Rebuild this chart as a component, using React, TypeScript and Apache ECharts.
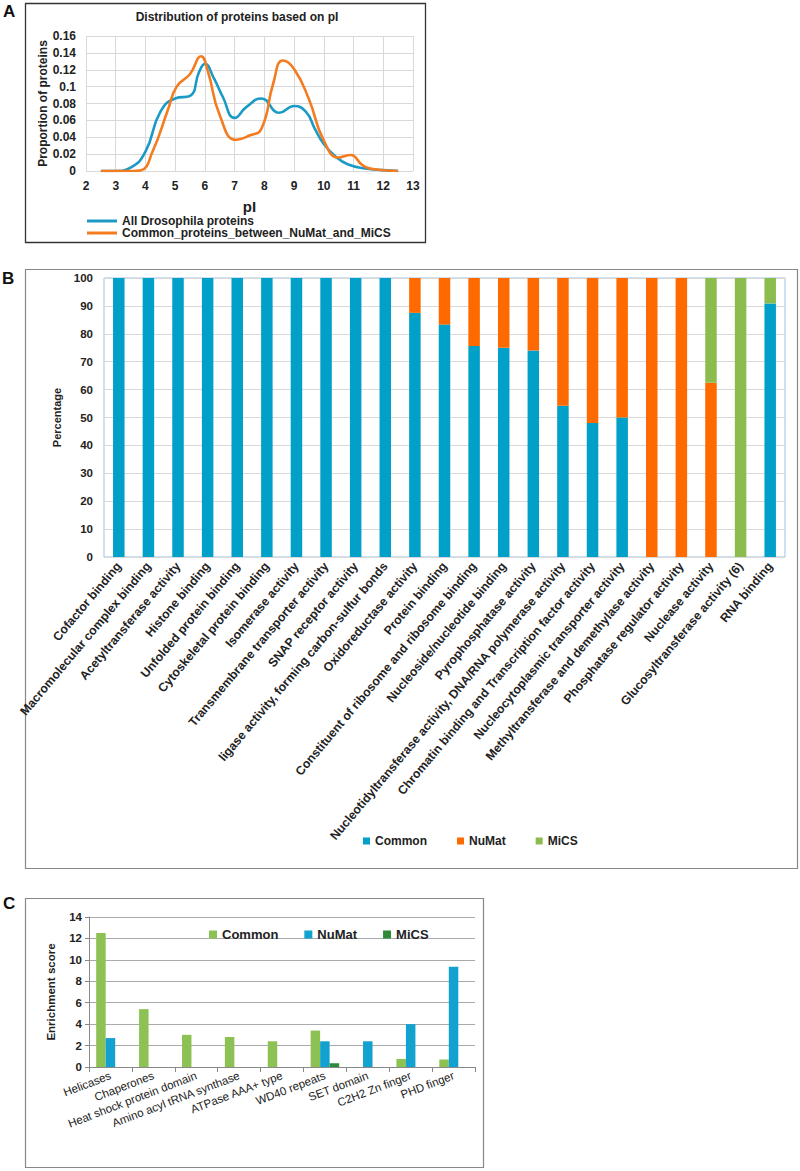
import React, { useEffect, useRef } from "react";
import * as echarts from "echarts";

// ---------- Panel A data ----------
const pIAll = [2.5, 3, 3.5, 4, 4.5, 5, 5.5, 5.8, 6, 6.3, 6.6, 7, 7.4, 7.9, 8.5, 9, 9.4, 9.7, 10, 10.4, 10.8, 11.4, 12, 12.5];
const propAll = [0, 0, 0.004, 0.023, 0.07, 0.086, 0.089, 0.117, 0.127, 0.11, 0.088, 0.063, 0.076, 0.086, 0.069, 0.077, 0.07, 0.05, 0.032, 0.017, 0.008, 0.003, 0.001, 0];
const pICommon = [2.5, 3, 3.5, 3.85, 4.25, 4.75, 5.05, 5.5, 5.87, 6.1, 6.5, 7.05, 7.5, 7.9, 8.3, 8.62, 9, 9.5, 10, 10.5, 10.9, 11.3, 11.7, 12.5];
const propCommon = [0, 0, 0, 0.001, 0.024, 0.072, 0.1, 0.115, 0.136, 0.118, 0.066, 0.037, 0.042, 0.05, 0.104, 0.131, 0.121, 0.085, 0.036, 0.016, 0.019, 0.007, 0.002, 0];
const seriesNamesA = ["All Drosophila proteins", "Common_proteins_between_NuMat_and_MiCS"];

// ---------- Panel B data ----------
const catsB = [
  "Cofactor binding",
  "Macromolecular complex binding",
  "Acetyltransferase activity",
  "Histone binding",
  "Unfolded protein binding",
  "Cytoskeletal protein binding",
  "Isomerase activity",
  "Transmembrane transporter activity",
  "SNAP receptor activity",
  "ligase activity, forming carbon-sulfur bonds",
  "Oxidoreductase activity",
  "Protein binding",
  "Constituent of ribosome and ribosome binding",
  "Nucleoside/nucleotide binding",
  "Pyrophosphatase activity",
  "Nucleotidyltransferase activity, DNA/RNA polymerase activity",
  "Chromatin binding and Transcription factor activity",
  "Nucleocytoplasmic transporter activity",
  "Methyltransferase and demethylase activity",
  "Phosphatase regulator activity",
  "Nuclease activity",
  "Glucosyltransferase activity (6)",
  "RNA binding",
];
const commonB = [100, 100, 100, 100, 100, 100, 100, 100, 100, 100, 87.5, 83.3, 75.6, 75, 74, 54.2, 48, 50, 0, 0, 0, 0, 90.9];
const numatB = [0, 0, 0, 0, 0, 0, 0, 0, 0, 0, 12.5, 16.7, 24.4, 25, 26, 45.8, 52, 50, 100, 100, 62.5, 0, 0];
const micsB = [0, 0, 0, 0, 0, 0, 0, 0, 0, 0, 0, 0, 0, 0, 0, 0, 0, 0, 0, 0, 37.5, 100, 9.1];
const seriesNamesB = ["Common", "NuMat", "MiCS"];

// ---------- Panel C data ----------
const catsC = [
  "Helicases",
  "Chaperones",
  "Heat shock protein domain",
  "Amino acyl tRNA synthase",
  "ATPase AAA+ type",
  "WD40 repeats",
  "SET domain",
  "C2H2 Zn finger",
  "PHD finger",
];
const commonC = [12.5, 5.4, 3.0, 2.8, 2.4, 3.4, 0, 0.75, 0.7];
const numatC = [2.7, 0, 0, 0, 0, 2.4, 2.4, 4.0, 9.35];
const micsC = [0, 0, 0, 0, 0, 0.35, 0, 0, 0];
const seriesNamesC = ["C:Common", "C:NuMat", "C:MiCS"];

const FONT = "'Liberation Sans', Arial, sans-serif";

export default function App() {
  const ref = useRef<HTMLDivElement>(null);

  useEffect(() => {
    if (!ref.current) return;
    const chart = echarts.init(ref.current, undefined, { renderer: "svg" });

    const boldLabel = (size: number) => ({
      fontFamily: FONT,
      fontWeight: "bold" as const,
      fontSize: size,
      color: "#222",
    });

    const option: any = {
      animation: false,
      backgroundColor: "#fff",
      textStyle: { fontFamily: FONT },
      graphic: [
        { type: "rect", shape: { x: 25.5, y: 3.5, width: 400, height: 239 }, style: { fill: "none", stroke: "#333", lineWidth: 1.3 }, silent: true },
        { type: "rect", shape: { x: 25.5, y: 269.5, width: 772, height: 599 }, style: { fill: "none", stroke: "#888", lineWidth: 1.2 }, silent: true },
        { type: "rect", shape: { x: 25.5, y: 898.5, width: 458, height: 269 }, style: { fill: "none", stroke: "#888", lineWidth: 1.2 }, silent: true },
        { type: "text", x: 3, y: 3, style: { text: "A", font: `bold 17px ${FONT}`, fill: "#111" } },
        { type: "text", x: 2, y: 270, style: { text: "B", font: `bold 17px ${FONT}`, fill: "#111" } },
        { type: "text", x: 3, y: 895, style: { text: "C", font: `bold 17px ${FONT}`, fill: "#111" } },
        {
          type: "text",
          x: 237,
          y: 17,
          style: {
            text: "Distribution of proteins based on pI",
            font: `bold 12px ${FONT}`,
            fill: "#222",
            textAlign: "center",
            textVerticalAlign: "middle",
          },
        },
      ],
      legend: [
        {
          data: seriesNamesA,
          orient: "vertical",
          left: 82,
          top: 210,
          icon: "rect",
          itemWidth: 30,
          itemHeight: 3,
          itemGap: 0,
          textStyle: { ...boldLabel(12), lineHeight: 12 },
          selectedMode: false,
        },
        {
          data: seriesNamesB,
          left: 358,
          top: 830,
          icon: "rect",
          itemWidth: 7,
          itemHeight: 7,
          itemGap: 30,
          textStyle: boldLabel(12),
          selectedMode: false,
        },
        {
          data: seriesNamesC,
          left: 204,
          top: 923,
          icon: "rect",
          itemWidth: 8,
          itemHeight: 8,
          itemGap: 26,
          formatter: (n: string) => n.replace(/^C:/, ""),
          textStyle: boldLabel(13),
          selectedMode: false,
        },
      ],
      grid: [
        { left: 86, top: 36, width: 327, height: 135 },
        { left: 104, top: 278, width: 681, height: 279, show: true, borderColor: "#9dc3e6", borderWidth: 1 },
        { left: 89, top: 917, width: 386, height: 150 },
      ],
      xAxis: [
        {
          gridIndex: 0,
          type: "value",
          min: 2,
          max: 13,
          interval: 1,
          axisLine: { show: false },
          axisTick: { show: false },
          splitLine: { show: true, lineStyle: { color: "#d9d9d9", width: 1 } },
          axisLabel: { ...boldLabel(12), margin: 9 },
          name: "pI",
          nameLocation: "middle",
          nameGap: 28,
          nameTextStyle: boldLabel(15),
        },
        {
          gridIndex: 1,
          type: "category",
          data: catsB,
          axisLine: { show: false },
          axisTick: { show: false },
          splitLine: { show: false },
          axisLabel: { ...boldLabel(12.3), rotate: 50, margin: 7, interval: 0 },
        },
        {
          gridIndex: 2,
          type: "category",
          data: catsC,
          axisLine: { show: true, lineStyle: { color: "#888" } },
          axisTick: { show: true, length: 5, lineStyle: { color: "#888" } },
          splitLine: { show: false },
          axisLabel: { fontFamily: FONT, fontSize: 11.5, color: "#222", rotate: 21, margin: 8, interval: 0 },
        },
      ],
      yAxis: [
        {
          gridIndex: 0,
          type: "value",
          min: 0,
          max: 0.16,
          interval: 0.02,
          axisLine: { show: false },
          axisTick: { show: false },
          splitLine: { show: true, lineStyle: { color: "#d9d9d9", width: 1 } },
          axisLabel: { ...boldLabel(12), margin: 10 },
          name: "Proportion of proteins",
          nameLocation: "middle",
          nameGap: 35,
          nameTextStyle: boldLabel(12),
        },
        {
          gridIndex: 1,
          type: "value",
          min: 0,
          max: 100,
          interval: 10,
          axisLine: { show: false },
          axisTick: { show: false },
          splitLine: { show: true, lineStyle: { color: "#d9d9d9", width: 1 } },
          axisLabel: { ...boldLabel(11.5), margin: 11 },
          name: "Percentage",
          nameLocation: "middle",
          nameGap: 36,
          nameTextStyle: boldLabel(11),
        },
        {
          gridIndex: 2,
          type: "value",
          min: 0,
          max: 14,
          interval: 2,
          axisLine: { show: true, lineStyle: { color: "#888" } },
          axisTick: { show: true, length: 4, inside: false, lineStyle: { color: "#888" } },
          splitLine: { show: true, lineStyle: { color: "#aaa", width: 1 } },
          axisLabel: { ...boldLabel(11.5), margin: 7 },
          name: "Enrichment score",
          nameLocation: "middle",
          nameGap: 32,
          nameTextStyle: boldLabel(11.5),
        },
      ],
      series: [
        {
          name: seriesNamesA[0],
          type: "line",
          xAxisIndex: 0,
          yAxisIndex: 0,
          data: pIAll.map((x, i) => [x, propAll[i]]),
          smooth: 0.5,
          showSymbol: false,
          lineStyle: { color: "#1c9ac6", width: 2.6 },
          itemStyle: { color: "#1c9ac6" },
        },
        {
          name: seriesNamesA[1],
          type: "line",
          xAxisIndex: 0,
          yAxisIndex: 0,
          data: pICommon.map((x, i) => [x, propCommon[i]]),
          smooth: 0.5,
          showSymbol: false,
          lineStyle: { color: "#f47c20", width: 2.6 },
          itemStyle: { color: "#f47c20" },
        },
        {
          name: seriesNamesB[0],
          type: "bar",
          stack: "B",
          xAxisIndex: 1,
          yAxisIndex: 1,
          barWidth: 11.5,
          data: commonB,
          itemStyle: { color: "#00a0c8" },
        },
        {
          name: seriesNamesB[1],
          type: "bar",
          stack: "B",
          xAxisIndex: 1,
          yAxisIndex: 1,
          barWidth: 11.5,
          data: numatB,
          itemStyle: { color: "#ff6a00" },
        },
        {
          name: seriesNamesB[2],
          type: "bar",
          stack: "B",
          xAxisIndex: 1,
          yAxisIndex: 1,
          barWidth: 11.5,
          data: micsB,
          itemStyle: { color: "#8cbb4e" },
        },
        {
          name: seriesNamesC[0],
          type: "bar",
          xAxisIndex: 2,
          yAxisIndex: 2,
          barWidth: 9.5,
          barGap: "0%",
          data: commonC,
          itemStyle: { color: "#8dc153" },
        },
        {
          name: seriesNamesC[1],
          type: "bar",
          xAxisIndex: 2,
          yAxisIndex: 2,
          barWidth: 9.5,
          barGap: "0%",
          data: numatC,
          itemStyle: { color: "#13a1d0" },
        },
        {
          name: seriesNamesC[2],
          type: "bar",
          xAxisIndex: 2,
          yAxisIndex: 2,
          barWidth: 9.5,
          barGap: "0%",
          data: micsC,
          itemStyle: { color: "#2e8a36" },
        },
      ],
    };

    chart.setOption(option);
    return () => {
      chart.dispose();
    };
  }, []);

  return (
    <div
      ref={ref}
      style={{ position: "absolute", left: 0, top: 0, width: 800, height: 1171, background: "#fff" }}
    />
  );
}
